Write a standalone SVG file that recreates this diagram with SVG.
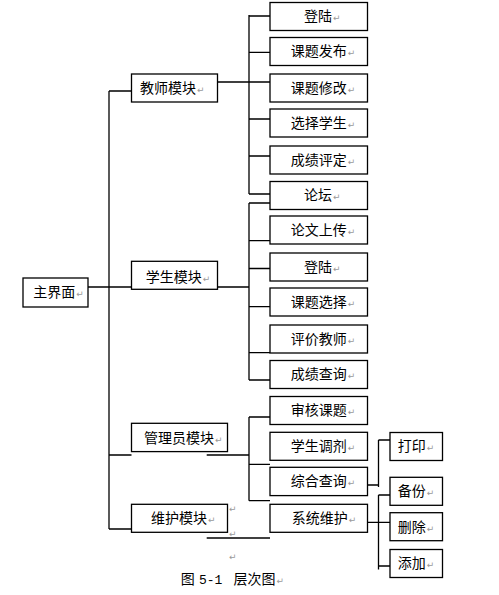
<svg xmlns="http://www.w3.org/2000/svg" width="499" height="595" viewBox="0 0 499 595">
<style>
rect.b{fill:#fff;stroke:#000;stroke-width:1.3}
.t{font-family:"Noto Sans CJK SC","Noto Sans CJK JP",sans-serif;font-size:14px;fill:#000}
.r{font-family:"DejaVu Sans",sans-serif;font-size:9px;fill:#9a9a9a}
#connectors path{fill:none;stroke:#000;stroke-width:1.3}
</style>
<rect width="499" height="595" fill="#fff"/>
<g id="connectors">
<path d="M88,287H131.5"/>
<path d="M109,91V529"/>
<path d="M109,91H131.5M109,455H131.5M206.7,455H249M109,529H131.5"/>
<path d="M217.5,82H249M249,15V194M249,16H270M249,52.3H270M249,82H270M249,119H270M249,156H270M249,194H270"/>
<path d="M217.5,287H249M249,203V380M249,203H270M249,240.7H270M249,268.5H270M249,306.7H270M249,352.7H270M249,380H270"/>
<path d="M249,417V500.7M249,417H270M249,464.3H270M249,500.7H270"/>
<path d="M206.7,538H270"/>
<path d="M367.5,485H378.5M378.5,440V487M378.5,440H390"/>
<path d="M367.5,522.3H390M378.5,495V569.5M378.5,495H390M378.5,566H390"/>
</g>
<g id="main"><rect class="b" x="23" y="278" width="65" height="29"/><text class="t" x="33.3" y="297">主界面<tspan class="r" dx="1">↵</tspan></text></g>
<g id="teacher"><rect class="b" x="131.5" y="74" width="86" height="28"/><text class="t" x="140" y="93">教师模块<tspan class="r" dx="1">↵</tspan></text></g>
<g id="student"><rect class="b" x="131.5" y="261.3" width="86" height="28"/><text class="t" x="145.7" y="281.5">学生模块<tspan class="r" dx="1">↵</tspan></text></g>
<g id="admin"><rect class="b" x="131.5" y="423.3" width="96" height="28.3"/><text class="t" x="144" y="442.5">管理员模块<tspan class="r" dx="1">↵</tspan></text></g>
<g id="maint"><rect class="b" x="131.5" y="504.3" width="96" height="28"/><text class="t" x="151" y="523">维护模块<tspan class="r" dx="1">↵</tspan></text></g>
<g id="t-login"><rect class="b" x="270" y="2.5" width="97.5" height="28"/><text class="t" x="304" y="21.2">登陆<tspan class="r" dx="1">↵</tspan></text></g>
<g id="t-publish"><rect class="b" x="270" y="37.5" width="97.5" height="28"/><text class="t" x="290.7" y="56.2">课题发布<tspan class="r" dx="1">↵</tspan></text></g>
<g id="t-modify"><rect class="b" x="270" y="74" width="97.5" height="28"/><text class="t" x="290.7" y="92.7">课题修改<tspan class="r" dx="1">↵</tspan></text></g>
<g id="t-select"><rect class="b" x="270" y="109" width="97.5" height="28"/><text class="t" x="290.7" y="127.7">选择学生<tspan class="r" dx="1">↵</tspan></text></g>
<g id="t-grade"><rect class="b" x="270" y="146" width="97.5" height="28"/><text class="t" x="290.7" y="164.7">成绩评定<tspan class="r" dx="1">↵</tspan></text></g>
<g id="forum"><rect class="b" x="270" y="181.5" width="97.5" height="28"/><text class="t" x="304" y="200.2">论坛<tspan class="r" dx="1">↵</tspan></text></g>
<g id="s-upload"><rect class="b" x="270" y="216" width="97.5" height="28"/><text class="t" x="290.7" y="234.7">论文上传<tspan class="r" dx="1">↵</tspan></text></g>
<g id="s-login"><rect class="b" x="270" y="253" width="97.5" height="28"/><text class="t" x="304" y="271.7">登陆<tspan class="r" dx="1">↵</tspan></text></g>
<g id="s-choose"><rect class="b" x="270" y="288" width="97.5" height="28"/><text class="t" x="290.7" y="306.7">课题选择<tspan class="r" dx="1">↵</tspan></text></g>
<g id="s-eval"><rect class="b" x="270" y="325" width="97.5" height="28"/><text class="t" x="290.7" y="343.7">评价教师<tspan class="r" dx="1">↵</tspan></text></g>
<g id="s-query"><rect class="b" x="270" y="360.5" width="97.5" height="28"/><text class="t" x="290.7" y="379.2">成绩查询<tspan class="r" dx="1">↵</tspan></text></g>
<g id="a-review"><rect class="b" x="270" y="396.5" width="97.5" height="28"/><text class="t" x="290.7" y="415.2">审核课题<tspan class="r" dx="1">↵</tspan></text></g>
<g id="a-adjust"><rect class="b" x="270" y="432.3" width="97.5" height="28"/><text class="t" x="290.7" y="451">学生调剂<tspan class="r" dx="1">↵</tspan></text></g>
<g id="a-query"><rect class="b" x="270" y="467.3" width="97.5" height="28.3"/><text class="t" x="290.7" y="486">综合查询<tspan class="r" dx="1">↵</tspan></text></g>
<g id="a-maint"><rect class="b" x="270" y="504.3" width="97.5" height="28"/><text class="t" x="291.7" y="523">系统维护<tspan class="r" dx="1">↵</tspan></text></g>
<g id="print"><rect class="b" x="390" y="432.5" width="52.5" height="28"/><text class="t" x="397.7" y="451">打印<tspan class="r" dx="1">↵</tspan></text></g>
<g id="backup"><rect class="b" x="390" y="477.3" width="52.5" height="28"/><text class="t" x="397.7" y="496">备份<tspan class="r" dx="1">↵</tspan></text></g>
<g id="delete"><rect class="b" x="390" y="512.7" width="52.5" height="28"/><text class="t" x="397.7" y="531.5">删除<tspan class="r" dx="1">↵</tspan></text></g>
<g id="add"><rect class="b" x="390" y="549.5" width="52.5" height="28"/><text class="t" x="397.7" y="568">添加<tspan class="r" dx="1">↵</tspan></text></g>
<g id="marks">
<text class="r" x="229" y="512">↵</text>
<text class="r" x="229" y="537">↵</text>
<text class="r" x="229" y="560">↵</text>
</g>
<g id="caption">
<text class="t" y="584"><tspan x="180.7">图</tspan><tspan x="199" font-family="Liberation Mono, monospace" font-size="13">5-1</tspan><tspan x="233.5">层次图</tspan><tspan class="r" dx="1">↵</tspan></text>
</g>
</svg>
